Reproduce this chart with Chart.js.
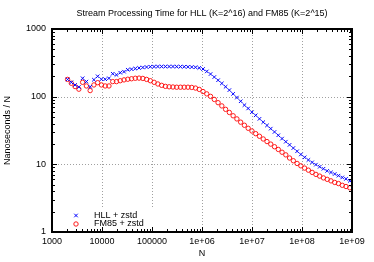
<!DOCTYPE html>
<html>
<head>
<meta charset="utf-8">
<script src="https://cdn.jsdelivr.net/npm/chart.js@4.4.1/dist/chart.umd.min.js"></script>
<style>body{margin:0;background:#fff}</style>
</head>
<body>
<canvas id="chart" width="374" height="262"></canvas>
<script>
// N values (4 points per octave, 2^11 .. ~2^29.75)
const nValues = [
  2048, 2435, 2896, 3444, 4096, 4871, 5793, 6889,
  8192, 9742, 11585, 13777, 16384, 19484, 23170, 27554,
  32768, 38968, 46341, 55109, 65536, 77936, 92682, 110218,
  131072, 155872, 185364, 220436, 262144, 311744, 370728, 440872,
  524288, 623487, 741455, 881744, 1048576, 1246974, 1482910, 1763488,
  2097152, 2493948, 2965821, 3526975, 4194304, 4987896, 5931642, 7053950,
  8388608, 9975792, 11863283, 14107901, 16777216, 19951584, 23726566, 28215801,
  33554432, 39903169, 47453133, 56431603, 67108864, 79806338, 94906265, 112863206,
  134217728, 159612675, 189812531, 225726413, 268435456, 319225350, 379625062, 451452825,
  536870912, 638450700, 759250125, 902905651
];
// nanoseconds per item
const hllTime = [
  180, 163, 149, 139, 187, 167, 140, 178,
  200, 181, 181, 187, 218, 210, 226, 234,
  250, 255, 260, 266, 270, 274, 277, 278,
  279, 279, 279, 279, 279, 278, 278, 277,
  276, 274, 272, 266, 256, 236, 216, 195,
  175, 157, 140, 125, 110, 97, 85.5, 75,
  67, 59, 53, 47, 42, 37.6, 33.7, 30.1,
  26.9, 24.0, 21.6, 19.4, 17.4, 15.6, 14.0, 12.7,
  11.6, 10.7, 9.9, 9.2, 8.6, 8.0, 7.6, 7.2,
  6.8, 6.4, 6.1, 5.7
];
const fm85Time = [
  180, 158, 141, 129, 163, 144, 123, 149,
  161, 149, 144, 144, 167, 167, 172, 177,
  181, 184, 187, 188, 186, 180, 172, 163,
  154, 147, 142, 140, 139, 138, 138, 138,
  138, 137, 134, 128, 119, 110, 101, 91,
  81.5, 73, 65, 58.4, 52.2, 46.9, 42.0, 37.8,
  34.1, 31.1, 28.4, 26.0, 23.7, 21.7, 19.9, 18.2,
  16.6, 15.1, 13.8, 12.4, 11.3, 10.3, 9.5, 8.8,
  8.2, 7.6, 7.1, 6.7, 6.3, 6.0, 5.7, 5.4,
  5.2, 4.9, 4.7, 4.5
];
const xMajor = [1000, 1e4, 1e5, 1e6, 1e7, 1e8, 1e9];
const xLabels = ['1000', '10000', '100000', '1e+06', '1e+07', '1e+08', '1e+09'];
const yMajor = [1, 10, 100, 1000];
const yLabels = ['1', '10', '100', '1000'];
const chartTitle = 'Stream Processing Time for HLL (K=2^16) and FM85 (K=2^15)';

const FONT = '"Liberation Sans", Arial, sans-serif';
const BLUE = '#0000ff';
const RED = '#ff1a1a';

const toPoints = (ys) => nValues.map((n, i) => ({ x: n, y: ys[i] }));

// title, grid lines, legend box, frame and tick marks like gnuplot
const gnuplotFrame = {
  id: 'gnuplotFrame',
  beforeDatasetsDraw(chart) {
    const { ctx, chartArea: a, scales: { x, y } } = chart;
    ctx.save();
    ctx.fillStyle = '#000';
    ctx.font = '9px ' + FONT;
    ctx.textAlign = 'center';
    ctx.textBaseline = 'middle';
    ctx.fillText(chartTitle, (a.left + a.right) / 2, 14);

    ctx.strokeStyle = '#a0a0a0';
    ctx.lineWidth = 1;
    ctx.setLineDash([1, 2]);
    xMajor.slice(1, -1).forEach(v => {
      const px = Math.round(x.getPixelForValue(v)) + 0.5;
      ctx.beginPath(); ctx.moveTo(px, a.top); ctx.lineTo(px, a.bottom); ctx.stroke();
    });
    yMajor.slice(1, -1).forEach(v => {
      const py = Math.round(y.getPixelForValue(v)) + 0.5;
      ctx.beginPath(); ctx.moveTo(a.left, py); ctx.lineTo(a.right, py); ctx.stroke();
    });
    ctx.setLineDash([]);
    // legend background
    ctx.fillStyle = '#fff';
    ctx.fillRect(a.left + 1, a.bottom - 23, 104, 22);
    ctx.restore();
  },
  afterDatasetsDraw(chart) {
    const { ctx, chartArea: a, scales: { x, y } } = chart;
    ctx.save();
    // legend
    const lx = a.left + 24, ly1 = a.bottom - 16.5, ly2 = a.bottom - 8;
    ctx.strokeStyle = BLUE; ctx.fillStyle = BLUE;
    Chart.helpers.drawPoint(ctx, { pointStyle: 'crossRot', radius: 2.5, borderWidth: 1, rotation: 0 }, lx, ly1);
    ctx.strokeStyle = RED; ctx.fillStyle = 'rgba(0,0,0,0)';
    Chart.helpers.drawPoint(ctx, { pointStyle: 'circle', radius: 2.2, borderWidth: 1, rotation: 0 }, lx, ly2);
    ctx.fillStyle = '#000';
    ctx.font = '9px ' + FONT;
    ctx.textBaseline = 'middle';
    ctx.textAlign = 'left';
    ctx.fillText('HLL + zstd', a.left + 42, ly1);
    ctx.fillText('FM85 + zstd', a.left + 42, ly2);

    // ticks (inward, mirrored)
    ctx.strokeStyle = '#000';
    ctx.lineWidth = 1;
    const tick = (x1, y1, x2, y2) => { ctx.beginPath(); ctx.moveTo(x1, y1); ctx.lineTo(x2, y2); ctx.stroke(); };
    xMajor.forEach((d, i) => {
      const px = Math.round(x.getPixelForValue(d)) + 0.5;
      tick(px, a.bottom, px, a.bottom - 5); tick(px, a.top, px, a.top + 5);
      if (i < xMajor.length - 1) {
        for (let m = 2; m <= 9; m++) {
          const mx = Math.round(x.getPixelForValue(d * m)) + 0.5;
          tick(mx, a.bottom, mx, a.bottom - 3); tick(mx, a.top, mx, a.top + 3);
        }
      }
    });
    yMajor.forEach((d, i) => {
      const py = Math.round(y.getPixelForValue(d)) + 0.5;
      tick(a.left, py, a.left + 5, py); tick(a.right, py, a.right - 5, py);
      if (i < yMajor.length - 1) {
        for (let m = 2; m <= 9; m++) {
          const my = Math.round(y.getPixelForValue(d * m)) + 0.5;
          tick(a.left, my, a.left + 3, my); tick(a.right, my, a.right - 3, my);
        }
      }
    });
    // frame
    ctx.lineWidth = 2;
    ctx.strokeRect(a.left, a.top, a.right - a.left, a.bottom - a.top);
    ctx.restore();
  }
};

Chart.defaults.font.family = FONT;
Chart.defaults.font.size = 9;
Chart.defaults.color = '#000';

new Chart(document.getElementById('chart'), {
  type: 'scatter',
  data: {
    datasets: [
      {
        label: 'HLL + zstd',
        data: toPoints(hllTime),
        pointStyle: 'crossRot',
        pointRadius: 2.5,
        pointBorderWidth: 1,
        borderColor: BLUE,
        backgroundColor: BLUE,
        showLine: false
      },
      {
        label: 'FM85 + zstd',
        data: toPoints(fm85Time),
        pointStyle: 'circle',
        pointRadius: 2.2,
        pointBorderWidth: 1,
        borderColor: RED,
        backgroundColor: 'rgba(0,0,0,0)',
        showLine: false
      }
    ]
  },
  plugins: [gnuplotFrame],
  options: {
    responsive: false,
    animation: false,
    layout: { padding: { top: 29, right: 22, bottom: 0, left: 0 } },
    plugins: {
      legend: { display: false },
      tooltip: { enabled: false },
      title: { display: false }
    },
    scales: {
      x: {
        type: 'logarithmic',
        min: 1000,
        max: 1e9,
        grid: { display: false, drawTicks: false },
        border: { display: false },
        afterBuildTicks: (s) => { s.ticks = xMajor.map(v => ({ value: v })); },
        afterFit: (s) => { s.height = 30; },
        ticks: {
          autoSkip: false,
          maxRotation: 0,
          padding: 4,
          callback: (v, i) => xLabels[i]
        },
        title: { display: true, text: 'N', font: { size: 9 }, padding: { top: 0, bottom: 3 } }
      },
      y: {
        type: 'logarithmic',
        min: 1,
        max: 1000,
        grid: { display: false, drawTicks: false },
        border: { display: false },
        afterBuildTicks: (s) => { s.ticks = yMajor.map(v => ({ value: v })); },
        afterFit: (s) => { s.width = 52; },
        ticks: {
          autoSkip: false,
          padding: 6,
          callback: (v, i) => yLabels[i]
        },
        title: { display: true, text: 'Nanoseconds / N', font: { size: 9 }, padding: { top: 2, bottom: 0 } }
      }
    }
  }
});
</script>
</body>
</html>
